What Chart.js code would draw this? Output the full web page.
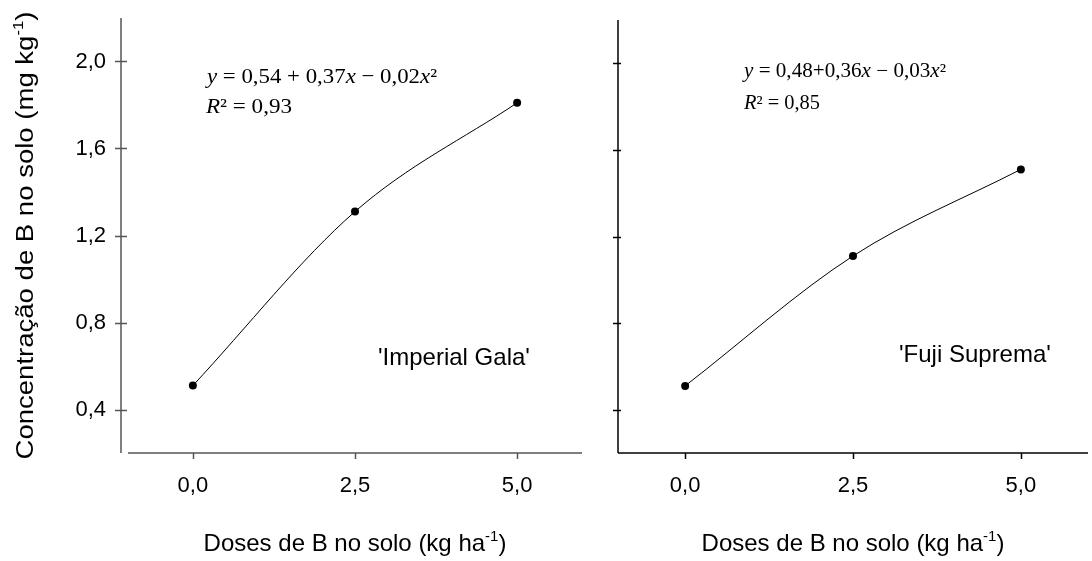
<!doctype html>
<html><head><meta charset="utf-8"/>
<title>Concentração de B no solo</title>
<script src="https://cdn.jsdelivr.net/npm/chart.js@4"></script>
<style>
  html,body{margin:0;padding:0;background:#fff;}
  #wrap{position:relative;width:1092px;height:561px;overflow:hidden;background:#fff;}
  canvas{position:absolute;top:0;}
</style></head><body>
<div id="wrap">
  <canvas id="gala" width="600" height="561" style="left:0"></canvas>
  <canvas id="fuji" width="492" height="561" style="left:600px"></canvas>
</div>
<script>
// data
const DOSES = [0, 2.5, 5];
const GALA = [0.51, 1.31, 1.81];
const FUJI = [0.51, 1.11, 1.51];
const X_TICKS = [0, 2.5, 5];
const Y_TICKS = [0.4, 0.8, 1.2, 1.6, 2.0];
const X_TITLE = [{ t: 'Doses de B no solo (kg ha' }, { t: '-1', sup: true }, { t: ')' }];
const Y_TITLE = [{ t: 'Concentração de B no solo (mg kg' }, { t: '-1', sup: true }, { t: ')' }];
const EQ_GALA = [{ t: 'y', i: true }, { t: ' = 0,54 + 0,37' }, { t: 'x', i: true }, { t: ' \u2212 0,02' }, { t: 'x', i: true }, { t: '\u00b2' }];
const R2_GALA = [{ t: 'R', i: true }, { t: '\u00b2 = 0,93' }];
const EQ_FUJI = [{ t: 'y', i: true }, { t: ' = 0,48+0,36' }, { t: 'x', i: true }, { t: ' \u2212 0,03' }, { t: 'x', i: true }, { t: '\u00b2' }];
const R2_FUJI = [{ t: 'R', i: true }, { t: '\u00b2 = 0,85' }];

const SANS = '"Liberation Sans", Arial, sans-serif';
const SERIF = '"Liberation Serif", "Times New Roman", serif';
const fmt = (v) => Number(v).toFixed(1).replace('.', ',');

function runFont(r, o) {
  const size = r.sup ? Math.round(o.size * 0.62) : o.size;
  return (r.i ? 'italic ' : '') + size + 'px ' + o.family;
}
function drawRuns(ctx, runs, x, y, o) {
  ctx.save();
  let w = 0;
  runs.forEach((r) => { ctx.font = runFont(r, o); w += ctx.measureText(r.t).width; });
  ctx.translate(x, y);
  if (o.rotate) ctx.rotate(o.rotate);
  ctx.scale(o.width ? o.width / w : 1, 1);
  ctx.fillStyle = '#000'; ctx.textAlign = 'left'; ctx.textBaseline = 'alphabetic';
  let cx = o.align === 'center' ? -w / 2 : 0;
  runs.forEach((r) => {
    ctx.font = runFont(r, o);
    ctx.fillText(r.t, cx, r.sup ? -o.size * 0.42 : 0);
    cx += ctx.measureText(r.t).width;
  });
  ctx.restore();
}
function seg(ctx, x1, y1, x2, y2) { ctx.beginPath(); ctx.moveTo(x1, y1); ctx.lineTo(x2, y2); ctx.stroke(); }

// SigmaPlot-style axes, tick marks and panel texts
const deco = {
  id: 'deco',
  beforeDatasetsDraw(chart, args, o) {
    const ctx = chart.ctx, a = chart.chartArea, xs = chart.scales.x, ys = chart.scales.y;
    const ax = a.left - o.yGap;
    ctx.save();
    ctx.strokeStyle = o.axisColor; ctx.lineWidth = 1.5;
    seg(ctx, ax, o.yTop, ax, a.bottom);
    seg(ctx, a.left, a.bottom, a.right, a.bottom);
    Y_TICKS.forEach((v) => { const y = Math.round(ys.getPixelForValue(v)) + 0.5; seg(ctx, ax - o.tickOut, y, ax + o.tickIn, y); });
    X_TICKS.forEach((v) => { const x = Math.round(xs.getPixelForValue(v)) + 0.5; seg(ctx, x, a.bottom, x, a.bottom + 6); });
    ctx.restore();
  },
  afterDraw(chart, args, o) {
    const ctx = chart.ctx, a = chart.chartArea;
    drawRuns(ctx, X_TITLE, (a.left + a.right) / 2, 551, { size: 24, family: SANS, align: 'center' });
    if (o.yTitle) drawRuns(ctx, Y_TITLE, 33, (o.yTop + a.bottom) / 2, { size: 23, family: SANS, align: 'center', rotate: -Math.PI / 2, width: 448 });
    drawRuns(ctx, o.eq, o.eqPos[0], o.eqPos[1], { size: o.eqSize, family: SERIF, width: o.eqW });
    drawRuns(ctx, o.r2, o.r2Pos[0], o.r2Pos[1], { size: o.eqSize, family: SERIF, width: o.r2W });
    drawRuns(ctx, [{ t: o.label }], o.labelPos[0], o.labelPos[1], { size: 24, family: SANS });
  }
};

function panel(id, values, p) {
  return new Chart(document.getElementById(id), {
    type: 'line',
    data: {
      datasets: [{
        data: DOSES.map((x, i) => ({ x, y: values[i] })),
        borderColor: '#000', borderWidth: 1, cubicInterpolationMode: 'monotone', fill: false,
        pointRadius: 4, pointBackgroundColor: '#000', pointBorderWidth: 0
      }]
    },
    options: {
      responsive: false, animation: false, events: [],
      layout: { padding: { top: p.top, right: p.right, left: 0, bottom: 0 } },
      plugins: { legend: { display: false }, tooltip: { enabled: false }, deco: p.deco },
      scales: {
        x: {
          type: 'linear', min: -1, max: 6,
          afterBuildTicks: (s) => { s.ticks = X_TICKS.map((v) => ({ value: v })); },
          afterFit: (s) => { s.height = 108; s.paddingLeft = 0; s.paddingRight = 0; },
          grid: { display: false, drawTicks: false }, border: { display: false },
          ticks: { padding: 20, color: '#000', font: { family: SANS, size: 22 }, maxRotation: 0, autoSkip: false, callback: fmt }
        },
        y: {
          min: 0.2, max: 2.2,
          afterBuildTicks: (s) => { s.ticks = Y_TICKS.map((v) => ({ value: v })); },
          afterFit: (s) => { s.width = p.yWidth; s.paddingTop = 0; s.paddingBottom = 0; },
          grid: { display: false, drawTicks: false }, border: { display: false },
          ticks: { display: p.yLabels, padding: 22, color: '#000', font: { family: SANS, size: 22 }, autoSkip: false, callback: fmt }
        }
      }
    },
    plugins: [deco]
  });
}

panel('gala', GALA, {
  top: 18, right: 18, yWidth: 128, yLabels: true,
  deco: {
    axisColor: '#555', yGap: 7, yTop: 18, tickOut: 6, tickIn: 6, yTitle: true,
    eq: EQ_GALA, eqPos: [207, 83], eqW: 230, r2: R2_GALA, r2Pos: [206, 113], r2W: 86, eqSize: 22,
    label: "'Imperial Gala'", labelPos: [378, 365]
  }
});
panel('fuji', FUJI, {
  top: 20, right: 0, yWidth: 18, yLabels: false,
  deco: {
    axisColor: '#000', yGap: 0, yTop: 20, tickOut: 5, tickIn: 3, yTitle: false,
    eq: EQ_FUJI, eqPos: [144, 77], eqW: 202, r2: R2_FUJI, r2Pos: [144, 109], r2W: 76, eqSize: 20,
    label: "'Fuji Suprema'", labelPos: [299, 362]
  }
});
</script>
</body></html>
